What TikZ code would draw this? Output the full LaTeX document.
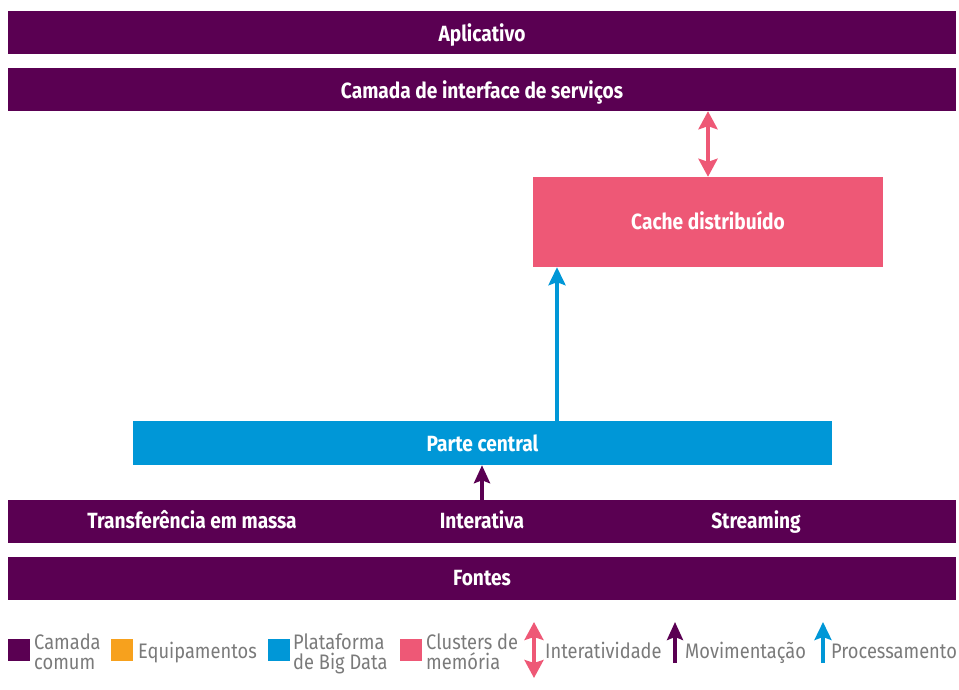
\documentclass[tikz,border=0pt]{standalone}
\usepackage{fontspec}
\setmainfont{Fira Sans}[FakeStretch=0.87]
\usetikzlibrary{arrows.meta}
\definecolor{cpurple}{HTML}{5A0052}
\definecolor{cpink}{HTML}{EE5876}
\definecolor{cblue}{HTML}{0097D7}
\definecolor{corange}{HTML}{F7A11D}
\definecolor{cgray}{HTML}{7A7A7A}
\tikzset{
  lbl/.style={text=white, font=\fontsize{22}{24}\selectfont\bfseries, inner sep=0pt, text height=17pt, text depth=3pt},
  lower/.style={text height=20pt},
  bar/.style={lbl, fill=cpurple, draw=none},
  legsq/.style={draw=none, minimum width=22pt, minimum height=22pt, inner sep=0pt},
  legtxt/.style={text=cgray, font=\fontsize{21}{20}\selectfont, inner sep=0pt, anchor=base west, align=left},
  pinkarr/.style={draw=cpink, line width=4pt, {Stealth[width=19pt,length=18pt,inset=3pt]}-{Stealth[width=19pt,length=18pt,inset=3pt]}},
  bluearr/.style={draw=cblue, line width=3.5pt, -{Stealth[width=17pt,length=18pt,inset=3pt]}},
  purparr/.style={draw=cpurple, line width=4pt, -{Stealth[width=16pt,length=18pt,inset=3pt]}},
}
\begin{document}
\begin{tikzpicture}[x=1pt,y=-1pt]
\useasboundingbox (0,0) rectangle (959,689);
\node[bar, lower, minimum width=948pt, minimum height=43pt] (app) at (482,32.5) {Aplicativo};
\node[bar, lower, minimum width=948pt, minimum height=43pt] (csi) at (482,89.5) {Camada de interface de serviços};
\node[fill=cpink, lbl, minimum width=350pt, minimum height=90pt] (cache) at (708,222) {Cache distribuído};
\node[fill=cblue, lbl, lower, minimum width=699pt, minimum height=44pt] (pc) at (482.5,443) {Parte central};
\node[bar, minimum width=948pt, minimum height=43pt] (mid) at (482,521.5) {};
\node[lbl] (tm) at (192,521.5) {Transferência em massa};
\node[lbl] (int) at (482,521.5) {Interativa};
\node[lbl] (str) at (756,521.5) {Streaming};
\node[bar, minimum width=948pt, minimum height=43pt] (fon) at (482,578.5) {Fontes};

\draw[pinkarr] (csi.south -| cache.north) -- (cache.north);
\coordinate (bl) at (557,0);
\draw[bluearr] (pc.north -| bl) -- (cache.south -| bl);
\draw[purparr] (mid.north -| int) -- (pc.south -| int);

% legend
\node[legsq, fill=cpurple] (l1) at (19,650) {};
\node[legtxt] (t1) at (34,669) {Camada\\comum};
\node[legsq, fill=corange] (l2) at (122,650) {};
\node[legtxt] (t2) at (138,658) {Equipamentos};
\node[legsq, fill=cblue] (l3) at (279,650) {};
\node[legtxt] (t3) at (293,669) {Plataforma\\de Big Data};
\node[legsq, fill=cpink] (l4) at (411,650) {};
\node[legtxt] (t4) at (426,669) {Clusters de\\memória};
\coordinate (a1t) at (534,622);
\coordinate (a1b) at (534,678);
\draw[pinkarr, line width=3.5pt] (a1t) -- (a1b);
\node[legtxt] (t5) at (545,658) {Interatividade};
\coordinate (a2t) at (675,622);
\coordinate (a2b) at (675,663);
\draw[purparr, line width=3.5pt] (a2b) -- (a2t);
\node[legtxt] (t6) at (685,658) {Movimentação};
\coordinate (a3t) at (823,622);
\coordinate (a3b) at (823,663);
\draw[bluearr, line width=3.5pt] (a3b) -- (a3t);
\node[legtxt] (t7) at (831,658) {Processamento};
\end{tikzpicture}
\end{document}
